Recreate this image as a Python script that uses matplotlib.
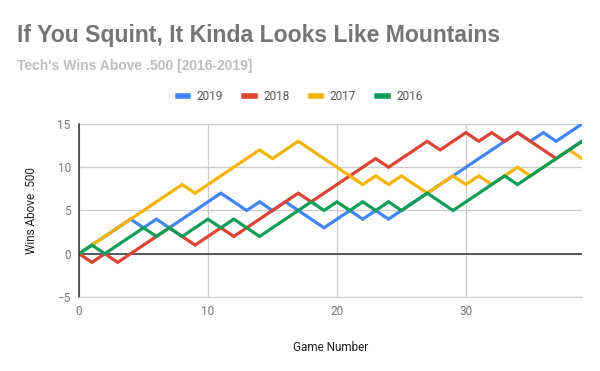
import matplotlib
matplotlib.use('Agg')
import matplotlib.pyplot as plt

games = list(range(40))
wins_2019 = [0, 1, 2, 3, 4, 3, 4, 3, 4, 5, 6, 7, 6, 5, 6, 5, 6, 5, 4, 3,
             4, 5, 4, 5, 4, 5, 6, 7, 8, 9, 10, 11, 12, 13, 14, 13, 14, 13, 14, 15]
wins_2018 = [0, -1, 0, -1, 0, 1, 2, 3, 2, 1, 2, 3, 2, 3, 4, 5, 6, 7, 6, 7,
             8, 9, 10, 11, 10, 11, 12, 13, 12, 13, 14, 13, 14, 13, 14, 13, 12, 11, 12, 13]
wins_2017 = [0, 1, 2, 3, 4, 5, 6, 7, 8, 7, 8, 9, 10, 11, 12, 11, 12, 13, 12, 11,
             10, 9, 8, 9, 8, 9, 8, 7, 8, 9, 8, 9, 8, 9, 10, 9, 10, 11, 12, 11]
wins_2016 = [0, 1, 0, 1, 2, 3, 2, 3, 2, 3, 4, 3, 4, 3, 2, 3, 4, 5, 6, 5,
             6, 5, 6, 5, 6, 5, 6, 7, 6, 5, 6, 7, 8, 9, 8, 9, 10, 11, 12, 13]

series = [('2019', wins_2019, '#4285f4'),
          ('2018', wins_2018, '#db4437'),
          ('2017', wins_2017, '#f4b400'),
          ('2016', wins_2016, '#0f9d58')]

plt.rcParams['font.family'] = ['Roboto', 'DejaVu Sans']

fig = plt.figure(figsize=(6, 3.71), dpi=100)
ax = fig.add_axes([0.1317, 0.1995, 0.8383, 0.4663])

for name, vals, col in series:
    ax.plot(games, vals, color=col, lw=2.3, label=name, solid_joinstyle='miter')

ax.set_xlim(0, 39)
ax.set_ylim(-5, 15)
ax.set_xticks([0, 10, 20, 30])
ax.set_yticks([-5, 0, 5, 10, 15])
ax.grid(True, color='#cccccc', lw=0.9)
ax.set_axisbelow(True)
ax.axhline(0, color='#333333', lw=1.1, zorder=1.5)
for s in ['top', 'right']:
    ax.spines[s].set_visible(False)
ax.spines['bottom'].set_color('#cccccc')
ax.spines['left'].set_color('#333333')
ax.spines['left'].set_linewidth(1.1)
ax.tick_params(length=0, labelsize=8.5, colors='#757575', pad=6)
ax.set_xlabel('Game Number', fontsize=8.5, color='#222222', labelpad=16)
ax.set_ylabel('Wins Above .500', fontsize=8.5, color='#222222', labelpad=14)

fig.text(0.028, 0.905, 'If You Squint, It Kinda Looks Like Mountains',
         fontsize=16.6, fontweight='bold', color='#757575', family='Liberation Sans', va='center')
fig.text(0.028, 0.822, "Tech's Wins Above .500 [2016-2019]",
         fontsize=10, fontweight='bold', color='#bdbdbd', family='Liberation Sans', va='center')

leg = fig.legend(loc='center', bbox_to_anchor=(0.5, 0.74), ncol=4, frameon=False,
                 fontsize=8.5, handlelength=0.9, handletextpad=0.7, columnspacing=1.8)
for h in leg.get_lines():
    h.set_linewidth(4)
for t in leg.get_texts():
    t.set_color('#555555')

fig.savefig('out.png', dpi=100)
